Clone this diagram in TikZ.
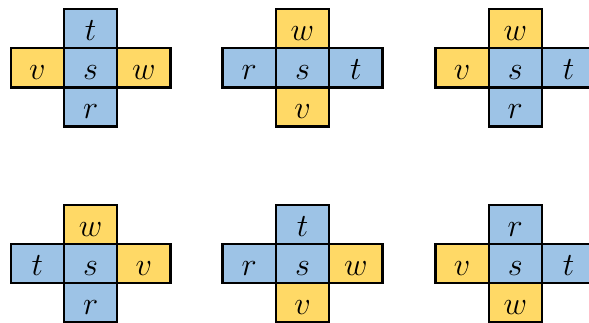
\documentclass[tikz,border=0pt]{standalone}
\usepackage{graphicx}
\usetikzlibrary{positioning}
\definecolor{cellblue}{HTML}{9DC3E6}
\definecolor{cellyellow}{HTML}{FFD966}
\newcommand{\lbl}[1]{\scalebox{1.3}{$#1$}}
\tikzset{
  cellbox/.style={rectangle, draw=black, line width=2.3pt, minimum width=53.3pt,
    minimum height=39.2pt, inner sep=0pt, outer sep=0pt, text height=23.9pt, text depth=0pt,
    font=\fontsize{24.88}{27}\selectfont},
  B/.style={cellbox, fill=cellblue},
  Y/.style={cellbox, fill=cellyellow}
}
\newcommand{\mycross}[8]{%
  % #1 name, #2 coordinate, #3 top, #4 left, #5 right, #6 bottom, #7 colors (t,l,r,b)
  \node[B] (#1s) at (#2) {\lbl{s}};
  \mycells{#1}{#3}{#4}{#5}{#6}#7
}
\newcommand{\mycells}[9]{%
  \node[#6, above=0pt of #1s] (#1t) {\lbl{#2}};
  \node[#7, left=0pt of #1s] (#1l) {\lbl{#3}};
  \node[#8, right=0pt of #1s] (#1r) {\lbl{#4}};
  \node[#9, below=0pt of #1s] (#1b) {\lbl{#5}};
}
\begin{document}
\begin{tikzpicture}[x=1pt,y=1pt]
\useasboundingbox (0,0) rectangle (589,323);
\clip (0,0) rectangle (589,323);
\mycross{a}{90.6,255.2}{t}{v}{w}{r}{{B}{Y}{Y}{B}}{}
\mycross{b}{302.5,255.2}{w}{r}{t}{v}{{Y}{B}{B}{Y}}{}
\mycross{c}{515.3,255.2}{w}{v}{t}{r}{{Y}{Y}{B}{B}}{}
\mycross{d}{90.6,59.5}{w}{t}{v}{r}{{Y}{B}{Y}{B}}{}
\mycross{e}{302.5,59.5}{t}{r}{w}{v}{{B}{B}{Y}{Y}}{}
\mycross{f}{515.3,59.5}{r}{v}{t}{w}{{B}{Y}{B}{Y}}{}
\end{tikzpicture}
\end{document}
